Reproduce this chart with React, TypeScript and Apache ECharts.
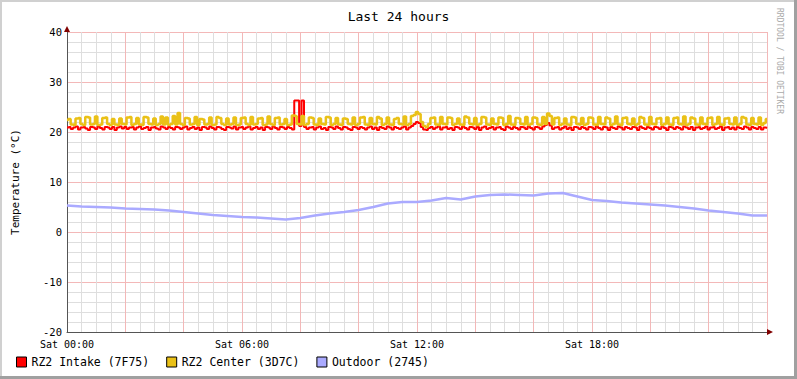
import React, { useEffect, useRef } from "react";
import * as echarts from "echarts";

const TITLE = "Last 24 hours";
const Y_NAME = "Temperature (°C)";
const WATERMARK = "RRDTOOL / TOBI OETIKER";
const SERIES_NAMES = ["RZ2 Intake (7F75)", "RZ2 Center (3D7C)", "Outdoor (2745)"];
const COLORS = ["#ff0000", "#eac117", "#aaaaff"];

// 5-minute samples, 00:00 .. 24:00 (24 per row = 2 hours)
const intake = [
  20.9, 21.0, 20.6, 20.9, 21.1, 20.5, 20.9, 21.0, 20.7, 20.4, 21.0, 20.9, 20.6, 21.1, 20.8, 20.5, 21.0, 20.9, 20.6, 21.0, 20.4, 20.9, 21.1, 20.7,
  21.0, 20.6, 20.9, 21.0, 20.5, 20.9, 21.1, 20.6, 20.8, 21.0, 20.4, 20.9, 21.0, 20.7, 20.5, 21.1, 20.9, 20.6, 21.0, 20.8, 20.5, 21.0, 20.9, 20.6,
  20.9, 21.1, 20.5, 20.8, 21.0, 20.6, 20.9, 20.4, 21.0, 20.9, 20.6, 21.1, 20.8, 20.5, 21.0, 20.9, 20.6, 20.4, 21.0, 20.9, 20.7, 21.1, 20.5, 20.9,
  21.0, 20.6, 20.9, 21.1, 20.5, 20.8, 21.0, 20.6, 20.9, 20.4, 21.0, 20.9, 20.6, 21.1, 20.8, 20.5, 21.0, 20.9, 20.6, 21.0, 20.8, 20.5, 26.3, 26.3,
  21.2, 26.3, 21.0, 20.6, 20.9, 21.0, 20.5, 20.9, 21.1, 20.6, 20.8, 20.4, 21.0, 20.9, 20.6, 21.1, 20.8, 20.5, 21.0, 20.9, 20.6, 20.4, 21.0, 20.9,
  20.6, 21.0, 20.8, 20.5, 20.9, 21.1, 20.6, 20.9, 20.4, 21.0, 20.8, 20.6, 21.1, 20.9, 20.5, 21.0, 20.8, 20.6, 20.9, 21.1, 20.5, 20.9, 21.2, 21.6,
  22.0, 21.8, 21.0, 20.5, 20.4, 20.8, 21.0, 20.6, 20.9, 21.1, 20.5, 20.9, 21.0, 20.6, 20.8, 20.4, 21.0, 20.9, 20.6, 21.1, 20.8, 20.5, 21.0, 20.9,
  20.6, 21.0, 20.4, 20.9, 21.1, 20.6, 20.8, 21.0, 20.5, 20.9, 21.0, 20.6, 20.4, 21.1, 20.9, 20.6, 21.0, 20.8, 20.5, 21.0, 20.9, 20.6, 21.1, 20.8,
  20.5, 21.0, 20.9, 20.6, 21.1, 21.4, 21.8, 21.3, 20.6, 20.9, 21.0, 20.5, 20.8, 21.1, 20.6, 20.9, 20.4, 21.0, 20.9, 20.6, 21.0, 20.8, 20.5, 21.0,
  20.9, 20.6, 21.1, 20.8, 20.5, 21.0, 20.9, 20.4, 21.0, 20.8, 20.6, 21.1, 20.9, 20.5, 21.0, 20.8, 20.6, 21.0, 20.9, 20.4, 21.1, 20.8, 20.6, 21.0,
  20.8, 20.5, 21.0, 20.9, 20.6, 21.1, 20.8, 20.4, 21.0, 20.9, 20.6, 21.0, 20.8, 20.5, 21.1, 20.9, 20.6, 21.0, 20.4, 20.9, 21.0, 20.6, 20.8, 21.1,
  20.5, 20.9, 21.0, 20.6, 20.8, 21.1, 20.4, 20.9, 21.0, 20.6, 20.9, 20.5, 21.0, 20.8, 20.6, 21.1, 20.9, 20.5, 21.0, 20.8, 20.6, 21.0, 20.5, 20.9,
  20.8,
];

const center = [
  22.4, 22.6, 21.5, 21.4, 22.7, 22.8, 21.6, 21.4, 23.0, 22.9, 21.5, 21.6, 23.1, 21.4, 21.5, 22.8, 22.9, 21.6, 21.4, 22.6, 21.5, 21.4, 22.7, 21.6,
  21.5, 22.9, 23.0, 21.4, 21.6, 22.8, 21.5, 21.4, 23.0, 22.9, 21.6, 21.5, 22.7, 21.4, 21.6, 23.1, 21.5, 22.9, 21.4, 21.6, 23.2, 21.5, 23.8, 21.6,
  21.4, 22.8, 22.7, 21.5, 21.6, 23.0, 21.4, 22.6, 22.5, 21.5, 21.6, 22.9, 21.4, 21.5, 23.0, 22.8, 21.6, 21.4, 22.7, 21.5, 21.6, 22.9, 21.4, 21.5,
  22.8, 22.9, 21.6, 21.4, 23.0, 21.5, 21.6, 22.7, 22.8, 21.4, 21.5, 23.1, 21.6, 21.4, 22.8, 22.9, 21.5, 21.6, 22.6, 21.4, 21.5, 23.3, 23.2, 21.6,
  21.5, 23.2, 21.4, 21.6, 22.9, 22.8, 21.5, 21.4, 22.7, 21.6, 21.5, 23.0, 22.9, 21.4, 21.6, 22.8, 21.5, 21.4, 22.7, 22.6, 21.6, 21.5, 22.9, 21.4,
  21.6, 22.9, 23.0, 21.5, 21.4, 22.8, 21.6, 21.5, 23.0, 22.7, 21.4, 21.6, 22.9, 21.5, 21.4, 22.6, 22.8, 21.6, 21.5, 23.1, 21.4, 21.6, 23.2, 23.4,
  24.0, 23.6, 22.0, 21.2, 21.0, 21.6, 22.8, 22.9, 21.5, 21.4, 23.0, 21.6, 21.5, 22.9, 22.8, 21.4, 21.6, 22.7, 21.5, 21.4, 23.1, 22.9, 21.6, 21.5,
  22.8, 21.4, 21.6, 23.0, 22.9, 21.5, 21.4, 22.7, 21.6, 21.5, 22.9, 22.8, 21.4, 21.6, 23.2, 21.5, 21.4, 22.8, 22.7, 21.6, 21.5, 23.0, 21.4, 21.6,
  22.9, 22.8, 21.5, 21.4, 23.0, 21.6, 23.7, 23.2, 21.5, 22.8, 22.9, 21.4, 21.6, 22.7, 21.5, 21.4, 23.0, 22.9, 21.6, 21.5, 22.8, 21.4, 21.6, 22.9,
  22.8, 21.5, 21.4, 23.0, 21.6, 21.5, 22.9, 22.7, 21.4, 21.6, 23.1, 21.5, 21.4, 22.8, 22.9, 21.6, 21.5, 22.7, 21.4, 21.6, 23.0, 22.8, 21.5, 21.4,
  23.0, 21.6, 21.5, 22.7, 22.8, 21.4, 21.6, 22.9, 21.5, 21.4, 22.8, 22.9, 21.6, 21.5, 23.1, 21.4, 21.6, 22.9, 22.7, 21.5, 21.4, 22.9, 21.6, 21.5,
  22.8, 22.9, 21.4, 21.6, 23.0, 21.5, 21.4, 22.7, 22.8, 21.6, 21.5, 22.9, 21.4, 21.6, 23.0, 22.8, 21.5, 21.4, 22.8, 21.6, 21.5, 22.9, 21.4, 21.8,
  22.6,
];

// 30-minute samples, 00:00 .. 24:00
const outdoor = [
  5.3, 5.1, 5.0, 4.9, 4.7, 4.6, 4.5, 4.3, 4.0, 3.7, 3.4, 3.2,
  3.0, 2.9, 2.7, 2.5, 2.8, 3.3, 3.7, 4.0, 4.4, 5.0, 5.7, 6.0,
  6.0, 6.3, 6.8, 6.5, 7.1, 7.4, 7.5, 7.4, 7.3, 7.7, 7.8, 7.1,
  6.4, 6.2, 5.9, 5.7, 5.5, 5.3, 5.0, 4.7, 4.3, 4.0, 3.7, 3.3,
  3.3,
];

const X_LABEL_HOURS = [0, 6, 12, 18];
const X_LABEL_TEXT = ["Sat 00:00", "Sat 06:00", "Sat 12:00", "Sat 18:00"];

const MONO = "DejaVu Sans Mono";

export default function App() {
  const ref = useRef<HTMLDivElement>(null);
  useEffect(() => {
    if (!ref.current) return;
    const chart = echarts.init(ref.current, undefined, { renderer: "svg" });
    const toPairs = (arr: number[], step: number) => arr.map((v, i) => [i * step, v]);
    chart.setOption({
      animation: false,
      backgroundColor: "#ffffff",
      textStyle: { fontFamily: MONO },
      title: {
        text: TITLE,
        left: "center",
        top: 5,
        textStyle: { fontFamily: MONO, fontSize: 13, fontWeight: "normal", color: "#000" },
      },
      grid: { left: 67, top: 32, width: 700, height: 300, containLabel: false },
      legend: {
        left: 11,
        top: 351,
        icon: "rect",
        itemWidth: 10,
        itemHeight: 10,
        itemGap: 17,
        textStyle: { fontFamily: MONO, fontSize: 11.5, color: "#000" },
        itemStyle: { borderColor: "#000", borderWidth: 1 },
        data: SERIES_NAMES.map((n, i) => ({ name: n, itemStyle: { color: COLORS[i], borderColor: "#000", borderWidth: 1 } })),
      },
      xAxis: {
        type: "value",
        min: 0,
        max: 24,
        interval: 2,
        axisLine: { show: true, onZero: false, lineStyle: { color: "#555", width: 1 } },
        axisTick: { show: false },
        minorTick: { show: false, splitNumber: 4 },
        axisLabel: {
          fontFamily: MONO,
          fontSize: 10,
          color: "#000",
          margin: 7,
          formatter: (v: number) => {
            const k = X_LABEL_HOURS.indexOf(v);
            return k >= 0 ? X_LABEL_TEXT[k] : "";
          },
        },
        splitLine: { show: true, lineStyle: { color: "#f3b8b8", width: 1 } },
        minorSplitLine: { show: true, lineStyle: { color: "#dedede", width: 1 } },
      },
      yAxis: {
        type: "value",
        min: -20,
        max: 40,
        interval: 10,
        name: Y_NAME,
        nameLocation: "middle",
        nameGap: 46,
        nameTextStyle: { fontFamily: MONO, fontSize: 11, color: "#000" },
        axisLine: { show: true, onZero: false, lineStyle: { color: "#555", width: 1 } },
        axisTick: { show: false },
        minorTick: { show: false, splitNumber: 5 },
        axisLabel: { fontFamily: MONO, fontSize: 10.5, color: "#000", margin: 5 },
        splitLine: { show: true, lineStyle: { color: "#f3b8b8", width: 1 } },
        minorSplitLine: { show: true, lineStyle: { color: "#dedede", width: 1 } },
      },
      series: [
        {
          name: SERIES_NAMES[0],
          type: "line",
          data: toPairs(intake, 1 / 12),
          step: "middle",
          showSymbol: false,
          lineStyle: { color: COLORS[0], width: 2 },
          itemStyle: { color: COLORS[0] },
          z: 3,
        },
        {
          name: SERIES_NAMES[1],
          type: "line",
          data: toPairs(center, 1 / 12),
          step: "middle",
          showSymbol: false,
          lineStyle: { color: COLORS[1], width: 2.5 },
          itemStyle: { color: COLORS[1] },
          z: 4,
        },
        {
          name: SERIES_NAMES[2],
          type: "line",
          data: toPairs(outdoor, 0.5),
          showSymbol: false,
          lineStyle: { color: COLORS[2], width: 2.5 },
          itemStyle: { color: COLORS[2] },
          z: 5,
        },
      ],
      graphic: [
        { type: "rect", shape: { x: 0, y: 0, width: 797, height: 2 }, style: { fill: "#d0d0d0" }, silent: true },
        { type: "rect", shape: { x: 0, y: 0, width: 2, height: 379 }, style: { fill: "#d0d0d0" }, silent: true },
        { type: "rect", shape: { x: 794, y: 0, width: 3, height: 379 }, style: { fill: "#a0a0a0" }, silent: true },
        { type: "rect", shape: { x: 0, y: 376, width: 797, height: 3 }, style: { fill: "#a0a0a0" }, silent: true },
        { type: "polygon", shape: { points: [[64, 32], [70, 32], [67, 26]] }, style: { fill: "#800000" }, z: 10, silent: true },
        { type: "polygon", shape: { points: [[767, 329], [767, 335], [773, 332]] }, style: { fill: "#800000" }, z: 10, silent: true },
        {
          type: "text",
          x: 783,
          y: 8,
          rotation: -Math.PI / 2,
          style: { text: WATERMARK, fontFamily: MONO, fontSize: 8, fill: "#aaaaaa" },
          silent: true,
        },
      ],
    });
    return () => chart.dispose();
  }, []);
  return <div ref={ref} style={{ position: "fixed", left: 0, top: 0, width: 797, height: 379 }} />;
}
